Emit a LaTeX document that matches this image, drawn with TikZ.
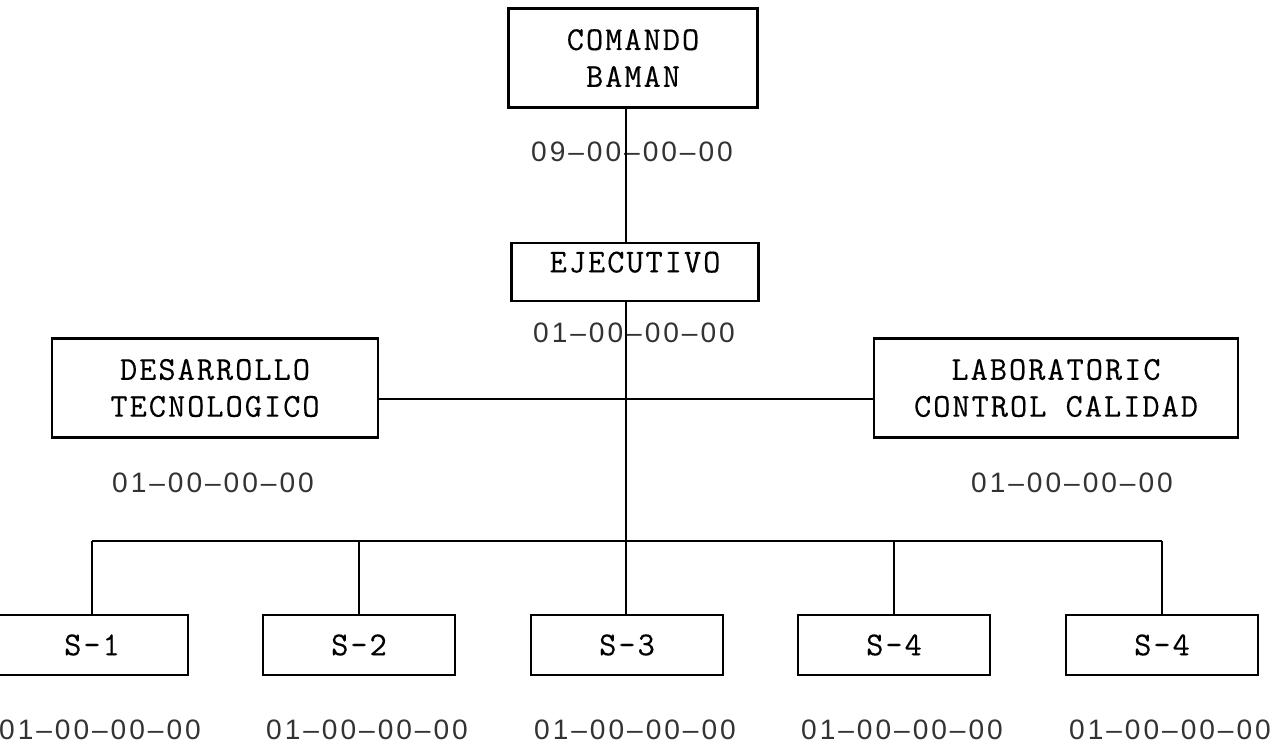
\documentclass[tikz,border=0pt]{standalone}
\usepackage{fontspec}
\newfontfamily\boxfont[LetterSpace=6,FakeBold=0.3]{Latin Modern Mono}
\newfontfamily\codefont{Liberation Sans}
\usetikzlibrary{positioning}

% every digit of a code number gets a cell of its own
\def\codeloop#1{\ifx#1\relax\else\makebox[0.372cm]{\ifx#1-\textendash\else#1\fi}\expandafter\codeloop\fi}
\newcommand\codetext[1]{\codeloop#1\relax}

\begin{document}
\begin{tikzpicture}[x=0.02cm, y=-0.02cm,
        unit/.style={draw, line width=1.4pt, align=center, inner sep=0pt,
            font=\boxfont\fontsize{19}{21}\selectfont},
        code/.style={font=\codefont\fontsize{16}{18}\selectfont, text=black!80, inner sep=0pt},
        link/.style={line width=1.1pt}]
        \useasboundingbox (0,0) rectangle (1285,746);

        \node[unit, minimum width=4.98cm, minimum height=1.98cm] (baman) at (633,58) {COMANDO\\BAMAN};
        \node[unit, minimum width=4.94cm, minimum height=1.16cm, text depth=0.4cm] (ejec) at (635,272) {EJECUTIVO};
        \node[unit, minimum width=6.52cm, minimum height=1.98cm] (desa) at (215,388) {DESARROLLO\\TECNOLOGICO};
        \node[unit, minimum width=7.28cm, minimum height=1.98cm] (lab) at (1056,388) {LABORATORIC\\CONTROL CALIDAD};

        \node[code] (cbaman) at (632,152) {\codetext{09-00-00-00}};
        \node[code] (cejec) at (634,333) {\codetext{01-00-00-00}};
        \node[code] (cdesa) at (213,483) {\codetext{01-00-00-00}};
        \node[code] (clab) at (1072,483) {\codetext{01-00-00-00}};

        \foreach \i/\x/\name in {1/92/S-1, 2/359/S-2, 3/627/S-3, 4/894/S-4, 5/1162/S-4} {
            \node[unit, minimum width=3.84cm, minimum height=1.2cm] (s\i) at (\x,645) {\name};
            \node[code] (cs\i) at (\x+8,730) {\codetext{01-00-00-00}};
        }

        \coordinate (trunk) at (626,0);
        \coordinate (cross) at (626,399);
        \coordinate (bus) at (0,541);

        \draw[link] (baman.south -| trunk) -- (ejec.north -| trunk);
        \draw[link] (ejec.south -| trunk) -- (s3.north -| trunk);
        \draw[link] (desa.east |- cross) -- (lab.west |- cross);
        \draw[link] (s1.north |- bus) -- (s5.north |- bus);
        \foreach \i in {1,2,4,5}
            \draw[link] (s\i.north) -- (s\i.north |- bus);
    \end{tikzpicture}
\end{document}
